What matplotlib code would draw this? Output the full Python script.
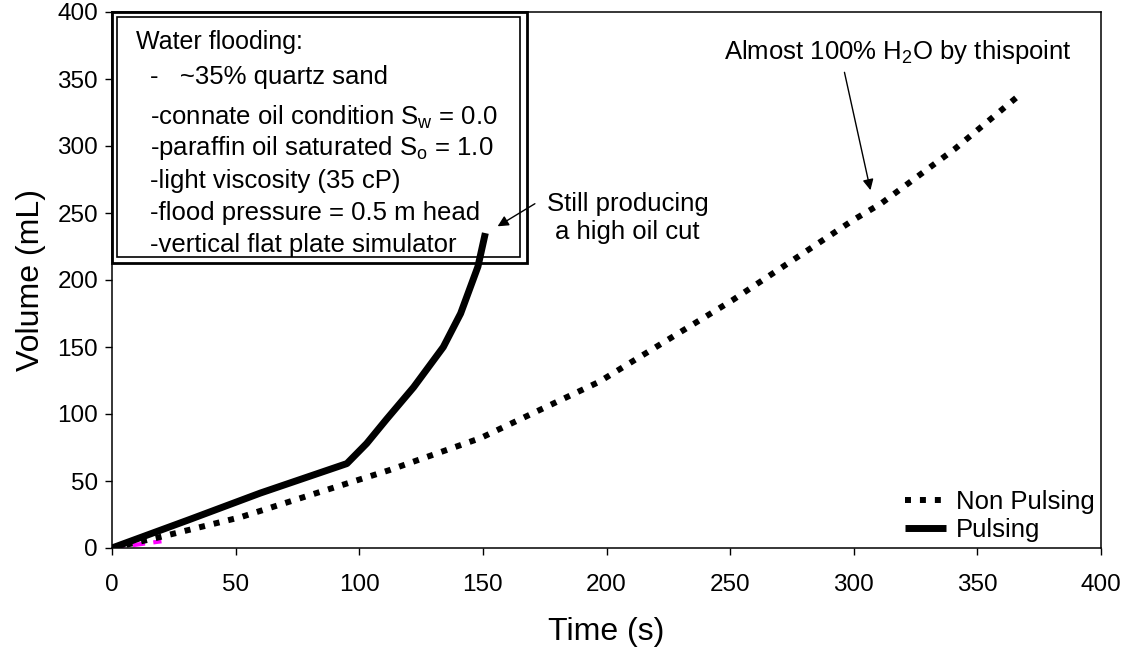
"""Water flooding: cumulative volume vs time, pulsing vs non pulsing."""

import matplotlib
matplotlib.use("Agg")
import matplotlib.pyplot as plt
from matplotlib.patches import Rectangle

plt.rcParams['font.family'] = ['Liberation Sans', 'DejaVu Sans']
plt.rcParams['mathtext.fontset'] = 'custom'
plt.rcParams['mathtext.rm'] = 'Liberation Sans'
plt.rcParams['mathtext.it'] = 'Liberation Sans'

# data
pulse_t = [0, 31, 60, 95, 103, 111, 122, 134, 141, 148, 151]
pulse_v = [0, 21, 41, 63, 78, 96, 120, 150, 175, 210, 235]

nonpulse_t = [0, 19, 52, 81, 112, 149, 197, 251, 300, 311, 341, 367]
nonpulse_v = [0, 8, 23, 40, 58, 82, 124, 185, 245, 257, 298, 338]

extra_t = [0, 20]
extra_v = [0, 5]

box_title = "Water flooding:"
box_lines = [
    "-   ~35% quartz sand",
    r"-connate oil condition $\mathregular{S_w}$ = 0.0",
    r"-paraffin oil saturated $\mathregular{S_o}$ = 1.0",
    "-light viscosity (35 cP)",
    "-flood pressure = 0.5 m head",
    "-vertical flat plate simulator",
]
box_line_y = [77, 117, 148, 181, 213, 245]  # pixel rows of the text lines

W, H = 1136, 650
fig = plt.figure(figsize=(W / 100, H / 100), dpi=100)
ax = fig.add_axes([112 / W, 1 - 548 / H, (1101 - 112) / W, (548 - 12) / H])


def px(x, y):
    return x / W, 1 - y / H


# double framed text box, under the curves
x0, y0 = px(112, 263)
x1, y1 = px(527, 12)
ax.add_patch(Rectangle((x0, y0), x1 - x0, y1 - y0, transform=fig.transFigure,
                       facecolor='white', edgecolor='black', lw=2, zorder=1.2,
                       clip_on=False))
x0, y0 = px(117, 257)
x1, y1 = px(520, 17)
ax.add_patch(Rectangle((x0, y0), x1 - x0, y1 - y0, transform=fig.transFigure,
                       facecolor='none', edgecolor='black', lw=1.2, zorder=1.3,
                       clip_on=False))
fx, fy = px(136, 42)
ax.text(fx, fy, box_title, transform=fig.transFigure, fontsize=18,
        va='center', ha='left', zorder=1.5)
for line, yy in zip(box_lines, box_line_y):
    fx, fy = px(150, yy)
    ax.text(fx, fy, line, transform=fig.transFigure, fontsize=18.5,
            va='center', ha='left', zorder=1.5)

ax.plot(extra_t, extra_v, color='magenta', lw=3, dashes=(3, 2), zorder=2)
ax.plot(nonpulse_t, nonpulse_v, color='black', lw=4.3, dashes=(1, 1.5),
        dash_capstyle='butt', label='Non Pulsing', zorder=3)
ax.plot(pulse_t, pulse_v, color='black', lw=5, solid_capstyle='butt',
        label='Pulsing', zorder=4)

ax.set_xlim(0, 400)
ax.set_ylim(0, 400)
ax.set_xticks(range(0, 401, 50))
ax.set_yticks(range(0, 401, 50))
ax.tick_params(axis='both', direction='out', length=5, width=1,
               labelsize=17.5, colors='black')
ax.tick_params(axis='x', pad=14)
ax.tick_params(axis='y', pad=5)
for sp in ax.spines.values():
    sp.set_linewidth(1.1)
    sp.set_zorder(5)

ax.set_xlabel('Time (s)', fontsize=23, labelpad=15)
ax.set_ylabel('Volume (mL)', fontsize=23, labelpad=8)

# annotations
ax.text(208.5, 246, 'Still producing\na high oil cut', fontsize=18.5,
        ha='center', va='center', linespacing=1.2)
ax.annotate('', xy=(155, 239), xytext=(172, 258), zorder=6,
            arrowprops=dict(arrowstyle='-|>', lw=1, color='black', mutation_scale=16))

ax.text(318, 370, r'Almost 100% H$\mathregular{_2}$O by thispoint', fontsize=18.5,
        ha='center', va='center')
ax.annotate('', xy=(307, 265), xytext=(296, 357), zorder=6,
            arrowprops=dict(arrowstyle='-|>', lw=1, color='black', mutation_scale=16))

ax.legend(loc='lower right', bbox_to_anchor=(0.994, 0.012), frameon=False,
          fontsize=18.5, handlelength=1.6, handletextpad=0.4, labelspacing=0.15,
          borderaxespad=0, borderpad=0)

fig.savefig('out.png', dpi=100)
